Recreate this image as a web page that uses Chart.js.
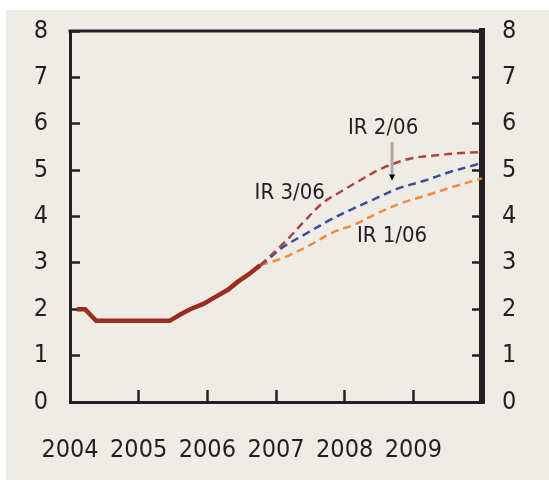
<!DOCTYPE html>
<html>
<head>
<meta charset="utf-8">
<script src="https://cdn.jsdelivr.net/npm/chart.js@4"></script>
<style>
  html, body { margin: 0; padding: 0; background: #ffffff; }
  #wrap { width: 549px; height: 480px; }
</style>
</head>
<body>
<div id="wrap"><canvas id="myChart" width="549" height="480"></canvas></div>
<script>
// rate history (solid line)
const histYears = [2004.1, 2004.22, 2004.38, 2005.45, 2005.6, 2005.75, 2005.95, 2006.1, 2006.3, 2006.45, 2006.6, 2006.77];
const histRate  = [2.0, 2.0, 1.75, 1.75, 1.88, 2.0, 2.12, 2.25, 2.42, 2.6, 2.75, 2.95];

// forecasts from the inflation reports (dashed)
const ir306Years = [2006.77, 2007.13, 2007.39, 2007.68, 2007.96, 2008.2, 2008.56, 2008.96, 2009.34, 2009.68, 2010.0];
const ir306Rate  = [2.95, 3.45, 3.86, 4.29, 4.55, 4.76, 5.05, 5.25, 5.32, 5.37, 5.39];

const ir206Years = [2006.77, 2006.87, 2007.1, 2007.45, 2007.78, 2008.08, 2008.41, 2008.77, 2009.16, 2009.53, 2009.87, 2010.0];
const ir206Rate  = [2.95, 3.06, 3.34, 3.64, 3.92, 4.14, 4.36, 4.6, 4.77, 4.96, 5.1, 5.17];

const ir106Years = [2006.77, 2007.09, 2007.49, 2007.83, 2008.12, 2008.48, 2008.83, 2009.2, 2009.56, 2009.9, 2010.0];
const ir106Rate  = [2.95, 3.1, 3.38, 3.66, 3.81, 4.07, 4.29, 4.46, 4.63, 4.78, 4.82];

// annotation labels (data coordinates)
const noteText  = ['IR 3/06', 'IR 2/06', 'IR 1/06'];
const noteYears = [2007.2, 2008.56, 2008.69];
const noteRate  = [4.51, 5.91, 3.58];

const yTicks = [0, 1, 2, 3, 4, 5, 6, 7, 8];

const FONT = '"Liberation Sans Narrow", "Arial Narrow", "DejaVu Sans Condensed", "Liberation Sans", sans-serif';
const INK = '#231f20';

function pts(xs, ys) {
    return xs.map((x, i) => ({ x: x, y: ys[i] }));
}

const panelBg = {
    id: 'panelBg',
    beforeDraw(chart) {
        const c = chart.ctx;
        c.save();
        c.fillStyle = '#ffffff';
        c.fillRect(0, 0, chart.width, chart.height);
        c.fillStyle = '#efece6';
        c.fillRect(6, 10, chart.width - 6, chart.height - 10);
        c.restore();
    }
};

const frameAndNotes = {
    id: 'frameAndNotes',
    afterDraw(chart) {
        const c = chart.ctx;
        const a = chart.chartArea;
        const xs = chart.scales.x, ys = chart.scales.y;
        c.save();
        // top border
        c.strokeStyle = INK;
        c.lineWidth = 3;
        c.beginPath();
        c.moveTo(a.left - 1.5, a.top);
        c.lineTo(a.right + 3, a.top);
        c.stroke();

        // labels
        c.fillStyle = INK;
        c.font = '22px ' + FONT;
        c.textAlign = 'center';
        c.textBaseline = 'middle';
        noteText.forEach((t, i) => {
            c.fillText(t, xs.getPixelForValue(noteYears[i]), ys.getPixelForValue(noteRate[i]));
        });

        // pointer from IR 2/06 to its curve
        const px = xs.getPixelForValue(2008.69);
        const y0 = ys.getPixelForValue(5.61);
        const y1 = ys.getPixelForValue(4.8);
        c.strokeStyle = '#aaaaaa';
        c.lineWidth = 3;
        c.beginPath();
        c.moveTo(px, y0);
        c.lineTo(px, y1 - 4);
        c.stroke();
        c.fillStyle = '#000000';
        c.beginPath();
        c.moveTo(px - 3, y1 - 5);
        c.lineTo(px + 3, y1 - 5);
        c.lineTo(px, y1 + 1);
        c.closePath();
        c.fill();
        c.restore();
    }
};

const config = {
    type: 'line',
    data: {
        datasets: [
            {
                label: 'history',
                data: pts(histYears, histRate),
                borderColor: '#9b2c1f',
                borderWidth: 4.5,
                pointRadius: 0,
                tension: 0
            },
            {
                label: 'IR 3/06',
                data: pts(ir306Years, ir306Rate),
                borderColor: '#a9473c',
                borderWidth: 2.5,
                borderDash: [8, 5],
                pointRadius: 0,
                tension: 0.35
            },
            {
                label: 'IR 2/06',
                data: pts(ir206Years, ir206Rate),
                borderColor: '#3c4c9c',
                borderWidth: 2.5,
                borderDash: [8, 5],
                pointRadius: 0,
                tension: 0.35
            },
            {
                label: 'IR 1/06',
                data: pts(ir106Years, ir106Rate),
                borderColor: '#f28a3a',
                borderWidth: 2.5,
                borderDash: [8, 5],
                pointRadius: 0,
                tension: 0.35
            }
        ]
    },
    options: {
        responsive: false,
        animation: false,
        layout: { padding: { top: 31, left: 6, right: 0, bottom: 0 } },
        plugins: {
            legend: { display: false },
            tooltip: { enabled: false }
        },
        scales: {
            x: {
                type: 'linear',
                min: 2004,
                max: 2010,
                afterFit(s) { s.height = 78; s.paddingLeft = 0; s.paddingRight = 0; },
                afterBuildTicks(s) { s.ticks = [2004, 2005, 2006, 2007, 2008, 2009, 2010].map(v => ({ value: v })); },
                border: { display: true, color: INK, width: 3 },
                grid: { drawOnChartArea: false, drawTicks: true, tickLength: -12, tickWidth: 2.5, tickColor: INK },
                ticks: {
                    padding: 45,
                    maxRotation: 0,
                    autoSkip: false,
                    color: INK,
                    font: { family: FONT, size: 25 },
                    callback: v => (v < 2010 ? String(v) : '')
                }
            },
            y: {
                position: 'left',
                min: 0,
                max: 8,
                afterFit(s) { s.width = 64; s.paddingTop = 0; s.paddingBottom = 0; },
                afterBuildTicks(s) { s.ticks = yTicks.map(v => ({ value: v })); },
                border: { display: true, color: INK, width: 3 },
                grid: { drawOnChartArea: false, drawTicks: true, tickLength: -10, tickWidth: 2.5, tickColor: INK },
                ticks: { padding: 32, color: INK, font: { family: FONT, size: 25 } }
            },
            y2: {
                position: 'right',
                min: 0,
                max: 8,
                afterFit(s) { s.width = 67; s.paddingTop = 0; s.paddingBottom = 0; },
                afterBuildTicks(s) { s.ticks = yTicks.map(v => ({ value: v })); },
                border: { display: true, color: INK, width: 6 },
                grid: { drawOnChartArea: false, drawTicks: true, tickLength: -10, tickWidth: 2.5, tickColor: INK },
                ticks: { padding: 30, color: INK, font: { family: FONT, size: 25 } }
            }
        }
    },
    plugins: [panelBg, frameAndNotes]
};

var rateChart = new Chart(document.getElementById('myChart'), config);
</script>
</body>
</html>
